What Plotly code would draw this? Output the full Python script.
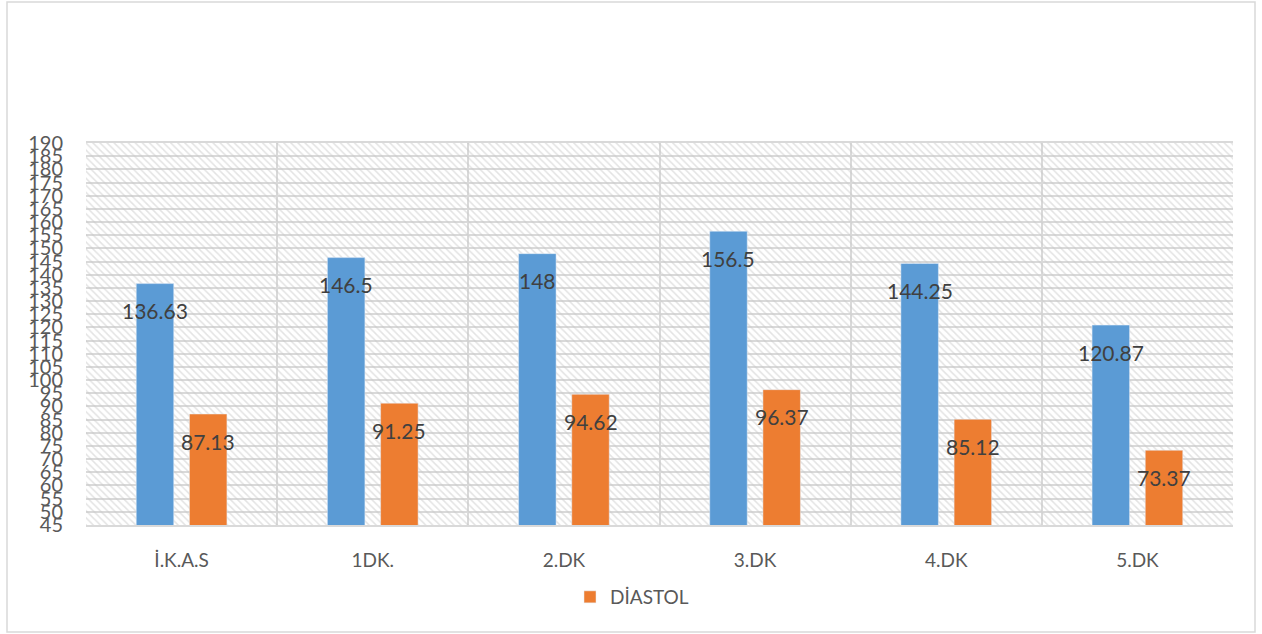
import plotly.graph_objects as go

# Blood-pressure readings per measurement point
categories = ["İ.K.A.S", "1DK.", "2.DK", "3.DK", "4.DK", "5.DK"]
sistol = [136.63, 146.5, 148, 156.5, 144.25, 120.87]
diastol = [87.13, 91.25, 94.62, 96.37, 85.12, 73.37]
y_ticks = list(range(45, 191, 5))

BLUE = "#5B9BD5"
ORANGE = "#ED7D31"
GRID = "#D9D9D9"
LABEL = "#404040"
AXIS_TXT = "#595959"
FONT = "Lato"

BARGAP = 0.4435
BARGROUPGAP = 0.295
Y_MIN, Y_MAX = 45, 190

fig = go.Figure()

# Hatched plot-area background on the base (hidden) x axis
fig.add_trace(go.Scatter(
    x=[0, 1, 1, 0, 0], y=[Y_MIN, Y_MIN, Y_MAX, Y_MAX, Y_MIN],
    xaxis="x", yaxis="y",
    mode="lines", line=dict(width=0),
    fill="toself", fillcolor="rgba(0,0,0,0)",
    fillpattern=dict(shape="\\", fgcolor="#C8C8C8", bgcolor="rgba(0,0,0,0)",
                     size=5, solidity=0.3),
    hoverinfo="skip", showlegend=False,
))

# Data bars on the overlaying categorical axis
fig.add_trace(go.Bar(
    x=categories, y=sistol, name="SİSTOL", marker_color=BLUE,
    xaxis="x2", yaxis="y", showlegend=False,
))
fig.add_trace(go.Bar(
    x=categories, y=diastol, name="DİASTOL", marker_color=ORANGE,
    xaxis="x2", yaxis="y",
))

# Value labels, set just below each bar top
half = (1 - BARGAP) / 4
annotations = []
for i, (s, d) in enumerate(zip(sistol, diastol)):
    for off, v in ((-half, s), (half, d)):
        annotations.append(dict(
            x=i + off, y=v, xref="x2", yref="y",
            text=f"{v:g}", showarrow=False, yshift=-27,
            font=dict(family=FONT, size=21, color=LABEL),
        ))

W, H = 1262, 634
L, R, T, B = 86, 29, 143, 109
pw, ph = W - L - R, H - T - B

def px_x(p):
    return (p - L) / pw

def px_y(p):
    return (H - B - p) / ph

fig.update_layout(
    width=W, height=H,
    margin=dict(l=L, r=R, t=T, b=B),
    paper_bgcolor="white", plot_bgcolor="white",
    barmode="group", bargap=BARGAP, bargroupgap=BARGROUPGAP,
    font=dict(family=FONT, color=AXIS_TXT),
    xaxis=dict(range=[0, 1], visible=False, fixedrange=True),
    xaxis2=dict(
        type="category", overlaying="x", anchor="y", side="bottom",
        tickson="boundaries", showgrid=True, gridcolor=GRID, gridwidth=2,
        ticks="", showline=True, linecolor=GRID, linewidth=2, mirror=True,
        tickfont=dict(family=FONT, size=19, color=AXIS_TXT),
        ticklabelstandoff=17,
    ),
    yaxis=dict(
        range=[Y_MIN, Y_MAX], tickvals=y_ticks, ticktext=[str(t) for t in y_ticks],
        showgrid=True, gridcolor=GRID, gridwidth=2, zeroline=False,
        ticks="", showline=False,
        tickfont=dict(family=FONT, size=20, color=AXIS_TXT),
        ticklabelstandoff=22,
    ),
    legend=dict(
        orientation="h", x=px_x(570), xanchor="left",
        y=px_y(597), yanchor="middle",
        font=dict(family=FONT, size=19, color=AXIS_TXT),
        bgcolor="rgba(0,0,0,0)",
    ),
    annotations=annotations,
    shapes=[dict(
        type="rect", xref="paper", yref="paper",
        x0=px_x(7), x1=px_x(1255), y0=px_y(632), y1=px_y(2),
        line=dict(color=GRID, width=1.5), fillcolor="rgba(0,0,0,0)",
        layer="below",
    )],
)

fig.write_html("out.html")
